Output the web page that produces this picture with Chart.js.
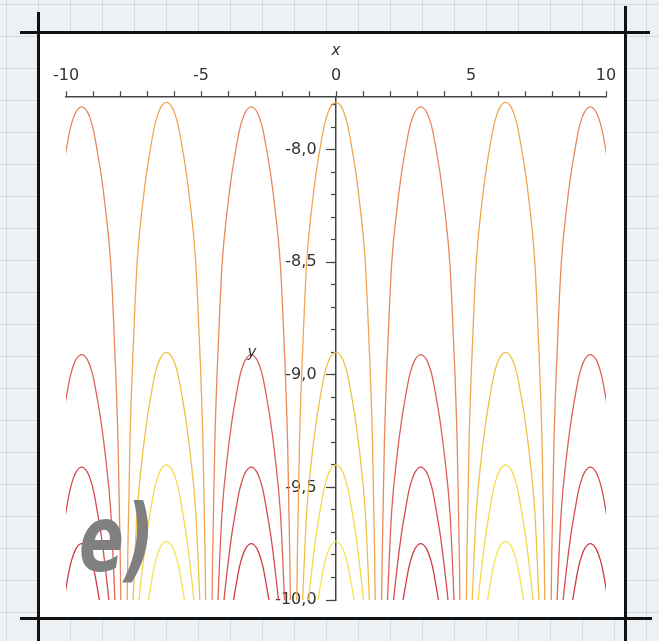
<!DOCTYPE html>
<html lang="en">
<head>
    <meta charset="UTF-8">
    <title>Contour arches</title>
    <style>
        /* graph paper page */
        body {
            margin: 0;
            width: 659px;
            height: 641px;
            overflow: hidden;
            position: relative;
            background-color: #eef1f3;
            background-image:
                linear-gradient(to right, rgba(160, 195, 220, 0.45) 1px, transparent 1px),
                linear-gradient(to bottom, rgba(160, 195, 220, 0.45) 1px, transparent 1px);
            background-size: 32px 32px;
            background-position: 6px 4px;
        }

        .panel {
            position: absolute;
            left: 38px;
            top: 32px;
            width: 587px;
            height: 586px;
            background: #fff;
        }

        /* black frame strokes */
        .stroke { position: absolute; background: #111; }
        .s-top    { left: 20px;  top: 31px;  width: 630px; height: 3px; }
        .s-bottom { left: 20px;  top: 617px; width: 632px; height: 3px; }
        .s-left   { left: 37px;  top: 12px;  width: 3px;   height: 629px; }
        .s-right  { left: 624px; top: 6px;   width: 3px;   height: 635px; }

        #chart {
            position: absolute;
            left: 0;
            top: 0;
        }

        .tag {
            position: absolute;
            left: 79px;
            top: 494px;
            font-family: 'DejaVu Sans', sans-serif;
            font-weight: bold;
            font-style: italic;
            font-size: 92px;
            color: #808080;
            line-height: 1;
            transform: scaleX(0.72);
            transform-origin: left top;
        }
    </style>
    <script src="https://cdn.jsdelivr.net/npm/chart.js"></script>
</head>
<body>
    <div class="panel"></div>
    <div class="stroke s-top"></div>
    <div class="stroke s-bottom"></div>
    <div class="stroke s-left"></div>
    <div class="stroke s-right"></div>

    <canvas id="chart" width="659" height="641"></canvas>
    <div class="tag">e)</div>

    <script>
        // x of each arch top (multiples of pi)
        const peakX = [-9.42, -6.28, -3.14, 0, 3.14, 6.28, 9.42];
        // top height of each row of arches, for even arches (0, +-2pi) and odd ones (+-pi, +-3pi)
        const peakEven = [-7.79, -8.90, -9.40, -9.74];
        const peakOdd = [-7.81, -8.91, -9.41, -9.75];
        // shape of one arch: drop below its top vs half width
        const profileDrop = [0, 0.02, 0.05, 0.10, 0.19, 0.30, 0.45, 0.70, 1.00, 1.50, 2.00, 2.40];
        const profileHalfW = [0, 0.20, 0.31, 0.43, 0.57, 0.72, 0.88, 1.08, 1.20, 1.35, 1.43, 1.47];
        // row colours
        const colorsEven = ['#f0a550', '#f0c048', '#f2d84a', '#f4e455'];
        const colorsOdd = ['#e8875a', '#dc6258', '#d84a52', '#cf3a48'];

        function archPoints(x0, top) {
            const pts = [];
            for (let i = profileDrop.length - 1; i > 0; i--) {
                pts.push({ x: x0 - profileHalfW[i], y: top - profileDrop[i] });
            }
            pts.push({ x: x0, y: top });
            for (let i = 1; i < profileDrop.length; i++) {
                pts.push({ x: x0 + profileHalfW[i], y: top - profileDrop[i] });
            }
            return pts;
        }

        const datasets = [];
        peakX.forEach((px, k) => {
            const odd = Math.abs(k - 3) % 2 === 1;
            for (let r = 0; r < 4; r++) {
                datasets.push({
                    data: archPoints(px, odd ? peakOdd[r] : peakEven[r]),
                    borderColor: odd ? colorsOdd[r] : colorsEven[r],
                    borderWidth: 1.3,
                    showLine: true,
                    pointRadius: 0,
                    cubicInterpolationMode: 'monotone'
                });
            }
        });

        const tickFont = { family: 'DejaVu Sans', size: 16 };
        const axisGrey = '#444';
        const yMin = -10, yMax = -7.767;

        // "y" label drawn beside the vertical axis
        const yLabel = {
            id: 'yLabel',
            afterDraw(chart) {
                const c = chart.ctx;
                const xs = chart.scales.x, ys = chart.scales.y;
                c.save();
                c.font = 'italic 15px "DejaVu Sans"';
                c.fillStyle = '#333';
                c.textAlign = 'center';
                c.textBaseline = 'middle';
                c.fillText('y', xs.getPixelForValue(0) - 84, ys.getPixelForValue(-8.905));
                c.restore();
            }
        };

        new Chart(document.getElementById('chart'), {
            type: 'scatter',
            data: { datasets: datasets },
            options: {
                responsive: false,
                animation: false,
                layout: { padding: { left: 66, right: 53, bottom: 41, top: 42 } },
                plugins: { legend: { display: false }, tooltip: { enabled: false } },
                scales: {
                    x: {
                        type: 'linear',
                        position: 'top',
                        min: -10,
                        max: 10,
                        grid: { drawOnChartArea: false, tickLength: 6, color: axisGrey, tickWidth: 1.2 },
                        border: { color: axisGrey, width: 1.5 },
                        ticks: {
                            stepSize: 1,
                            autoSkip: false,
                            maxRotation: 0,
                            padding: 6,
                            font: tickFont,
                            color: '#333',
                            callback: v => (v % 5 === 0 ? String(v) : '')
                        },
                        title: { display: true, text: 'x', font: { family: 'DejaVu Sans', size: 15, style: 'italic' }, color: '#333', padding: { top: 0, bottom: 0 } }
                    },
                    y: {
                        type: 'linear',
                        position: { x: 0 },
                        min: yMin,
                        max: yMax,
                        grid: { drawOnChartArea: false, tickLength: 9, color: axisGrey, tickWidth: 1.2 },
                        border: { color: axisGrey, width: 1.5 },
                        ticks: { stepSize: 0.5, includeBounds: false, display: false }
                    },
                    yMinor: {
                        type: 'linear',
                        position: { x: 0 },
                        min: yMin,
                        max: yMax,
                        grid: { drawOnChartArea: false, tickLength: 5, color: axisGrey, tickWidth: 1.2 },
                        border: { display: false },
                        ticks: { stepSize: 0.1, includeBounds: false, callback: () => '' }
                    },
                    // tick labels sit a little left of the axis line
                    yText: {
                        type: 'linear',
                        position: { x: -0.72 },
                        min: yMin,
                        max: yMax,
                        grid: { display: false },
                        border: { display: false },
                        ticks: {
                            stepSize: 0.5,
                            includeBounds: false,
                            font: tickFont,
                            color: '#333',
                            callback: v => v.toFixed(1).replace('.', ',')
                        }
                    }
                }
            },
            plugins: [yLabel]
        });
    </script>
</body>
</html>
